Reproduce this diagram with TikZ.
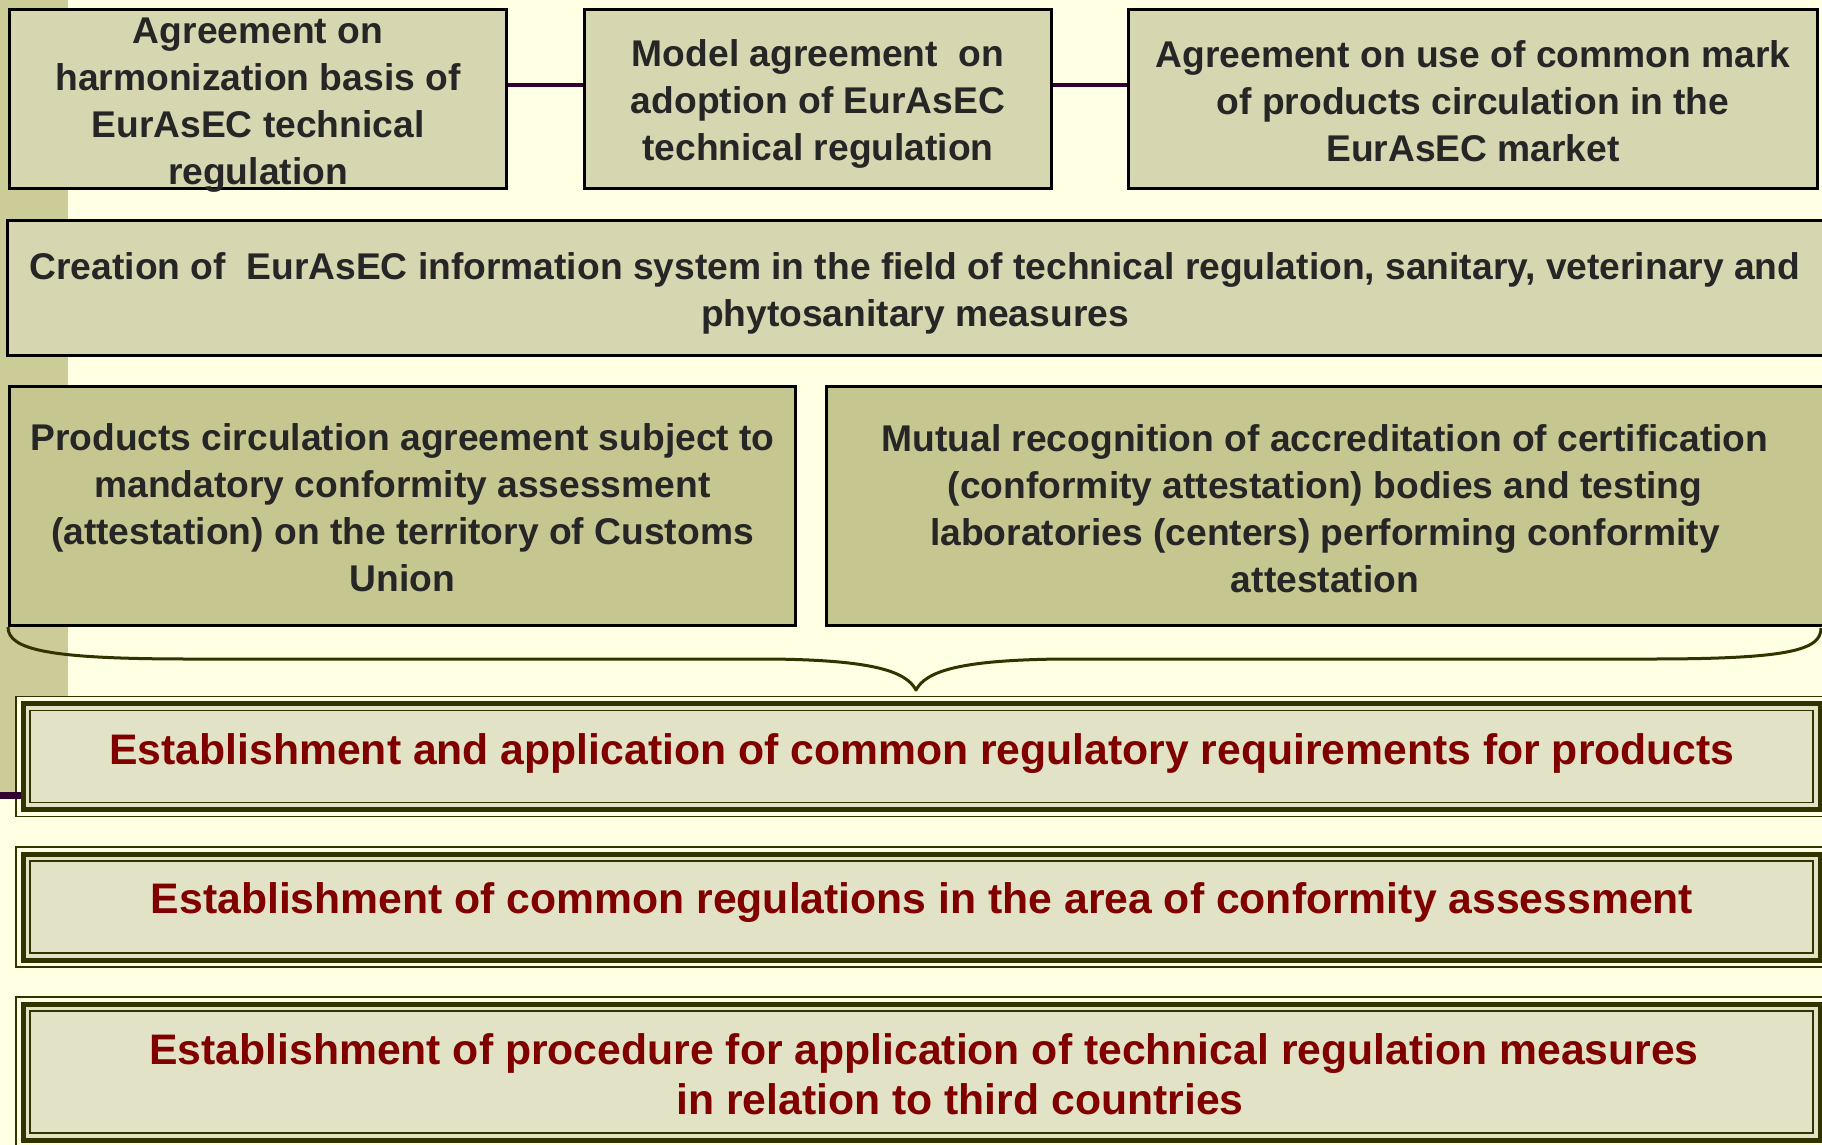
\documentclass[tikz,border=0pt]{standalone}
\usepackage{fontspec}
\setmainfont{Liberation Sans}
\definecolor{bgcream}{HTML}{FFFFE3}
\definecolor{sidebar}{HTML}{CCCC99}
\definecolor{topfill}{HTML}{D6D6B0}
\definecolor{midfill}{HTML}{C6C690}
\definecolor{redfill}{HTML}{E2E2C6}
\definecolor{olivedark}{HTML}{333300}
\definecolor{purpleline}{HTML}{330033}
\definecolor{textgray}{HTML}{262626}
\definecolor{darkred}{HTML}{800000}
\tikzset{
  topbox/.style={draw=black, line width=3pt, fill=topfill, inner sep=0pt},
  midbox/.style={draw=black, line width=3pt, fill=midfill, inner sep=0pt},
  thinframe/.style={draw=olivedark, line width=1.8pt, inner sep=0pt},
  thickframe/.style={draw=olivedark, line width=5pt, fill=redfill, inner sep=0pt},
  btext/.style={font=\fontsize{37.2}{47}\selectfont\bfseries, text=textgray, align=center, inner sep=0pt},
  rtext/.style={font=\fontsize{42.7}{50}\selectfont\bfseries, text=darkred, align=center, inner sep=0pt},
  conn/.style={draw=purpleline, line width=3.5pt},
  bracestyle/.style={draw=olivedark, line width=3pt, line join=round}
}
\newcommand{\redframe}[5]{%
  \node[thinframe, fill=bgcream, minimum width={#4+14}, minimum height={#5+14}] (#1o) at (#2,#3) {};
  \node[thickframe, minimum width=#4, minimum height=#5] (#1) at (#2,#3) {};
  \node[thinframe, minimum width={#4-14}, minimum height={#5-14}] (#1i) at (#2,#3) {};
}
\begin{document}
\begin{tikzpicture}[x=1pt,y=-1pt]
\useasboundingbox (0,0) rectangle (1822,1145);
\fill[bgcream] (0,0) rectangle (1822,1145);
\fill[sidebar] (0,0) rectangle (68,792);

% top row
\node[topbox, minimum width=497, minimum height=179] (A) at (258,99) {};
\node[topbox, minimum width=467, minimum height=179] (B) at (818,99) {};
\node[topbox, minimum width=689, minimum height=179] (C) at (1473,99) {};
\node[btext] (tA) at (258,104.7) {Agreement on\\harmonization basis of\\EurAsEC technical\\regulation};
\node[btext] (tB) at (818,104) {Model agreement\ \ on\\adoption of EurAsEC\\technical regulation};
\node[btext] (tC) at (1473,100.8) {Agreement on use of common mark\\of products circulation in the\\EurAsEC market};
\draw[conn] ([yshift=14pt]A.east) -- ([yshift=14pt]B.west);
\draw[conn] ([yshift=14pt]B.east) -- ([yshift=14pt]C.west);

% information system
\node[topbox, minimum width=1819, minimum height=135] (D) at (917,288) {};
\node[btext] (tD) at (915,293.2) {Creation of\ \ EurAsEC information system in the field of technical regulation, sanitary, veterinary and\\phytosanitary measures};

% two middle boxes
\node[midbox, minimum width=786, minimum height=239] (E) at (402.5,506) {};
\node[midbox, minimum width=1000, minimum height=239] (F) at (1326.5,506) {};
\node[btext] (tE) at (402.5,508) {Products circulation agreement subject to\\mandatory conformity assessment\\(attestation) on the territory of Customs\\Union};
\node[btext] (tF) at (1325,509) {Mutual recognition of accreditation of certification\\(conformity attestation) bodies and testing\\laboratories (centers) performing conformity\\attestation};

% red result boxes
\redframe{r1}{921.5}{756.5}{1797}{106}
\redframe{r2}{921.5}{907}{1797}{106}
\redframe{r3}{921.5}{1072}{1797}{136}
\node[rtext] (t1) at (922,753.2) {Establishment and application of common regulatory requirements for products};
\node[rtext] (t2) at (922,903) {Establishment of common regulations in the area of conformity assessment};
\node[rtext] (t3) at (924,1074.2) {Establishment of procedure for application of technical regulation measures\\\hspace*{72pt}in relation to third countries};

% brace
\coordinate (tip) at (916,690);
\coordinate (braceR) at (1821,628);
\draw[bracestyle] (E.south west) .. controls (8,650) and (50,659) .. (190,659)
  -- (770,659) .. controls (872,660) and (906,671) .. (tip)
  .. controls (926,671) and (960,660) .. (1062,659)
  -- (1650,659) .. controls (1790,659) and (1821,650) .. (braceR);

% left connector
\coordinate (pL) at (0,795.5);
\draw[draw=purpleline, line width=7.5pt] (pL) -- (pL -| r1.west);
\end{tikzpicture}
\end{document}
